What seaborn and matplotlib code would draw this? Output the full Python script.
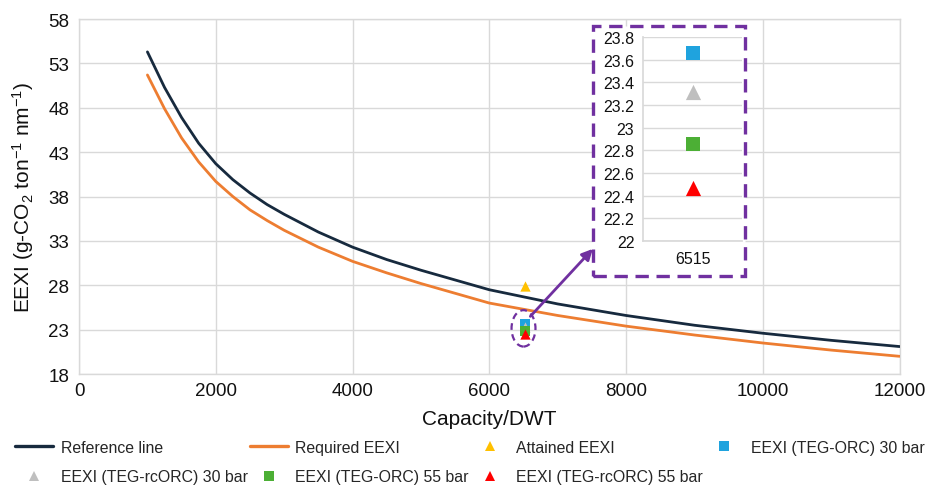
import matplotlib
matplotlib.use("Agg")
import matplotlib.pyplot as plt
import seaborn as sns
import pandas as pd
from matplotlib.patches import Ellipse, Rectangle
from matplotlib.lines import Line2D

# ---------------- data ----------------
dwt = [1000, 1250, 1500, 1750, 2000, 2250, 2500, 2750, 3000, 3500, 4000,
       4500, 5000, 6000, 7000, 8000, 9000, 10000, 11000, 12000]
reference_line = [54.3, 50.3, 46.9, 44.0, 41.7, 39.9, 38.4, 37.1, 36.0, 34.0, 32.3,
                  30.9, 29.7, 27.5, 25.9, 24.6, 23.5, 22.6, 21.8, 21.1]
required_eexi = [51.7, 47.9, 44.6, 41.9, 39.7, 38.0, 36.5, 35.3, 34.2, 32.3, 30.7,
                 29.4, 28.2, 26.0, 24.6, 23.4, 22.4, 21.5, 20.7, 20.0]

ship_dwt = 6515
point_labels = ["Attained EEXI", "EEXI (TEG-ORC) 30 bar", "EEXI (TEG-rcORC) 30 bar",
                "EEXI (TEG-ORC) 55 bar", "EEXI (TEG-rcORC) 55 bar"]
point_values = [27.9, 23.66, 23.32, 22.86, 22.47]
point_markers = ["^", "s", "^", "s", "^"]
point_colors = ["#FFC000", "#1FA3DE", "#BFBFBF", "#4CAF35", "#FF0000"]

x_ticks = [0, 2000, 4000, 6000, 8000, 10000, 12000]
y_ticks = [18, 23, 28, 33, 38, 43, 48, 53, 58]
inset_ticks = [22, 22.2, 22.4, 22.6, 22.8, 23, 23.2, 23.4, 23.6, 23.8]
inset_tick_labels = ["22", "22.2", "22.4", "22.6", "22.8", "23", "23.2", "23.4", "23.6", "23.8"]

NAVY = "#172A3E"
ORANGE = "#ED7D31"
PURPLE = "#7030A0"
GRID = "#D9D9D9"

# ---------------- style ----------------
sns.set_theme(style="white")
plt.rcParams["font.family"] = ["Liberation Sans", "DejaVu Sans"]
plt.rcParams["mathtext.fontset"] = "custom"
plt.rcParams["mathtext.rm"] = "Liberation Sans"
plt.rcParams["mathtext.it"] = "Liberation Sans:italic"
plt.rcParams["mathtext.bf"] = "Liberation Sans:bold"

fig = plt.figure(figsize=(9.41, 4.89), dpi=100)
ax = fig.add_axes([0.084, 0.233, 0.872, 0.726])

lines_df = pd.DataFrame({"dwt": dwt, "ref": reference_line, "req": required_eexi})
sns.lineplot(data=lines_df, x="dwt", y="ref", ax=ax, color=NAVY, lw=2.0, zorder=3)
sns.lineplot(data=lines_df, x="dwt", y="req", ax=ax, color=ORANGE, lw=2.0, zorder=3)

for lab, val, mk, col in zip(point_labels, point_values, point_markers, point_colors):
    sns.scatterplot(x=[ship_dwt], y=[val], ax=ax, marker=mk, color=col, s=55,
                    linewidth=0, zorder=4)

ax.set_xlim(0, 12000)
ax.set_ylim(18, 58)
ax.set_xticks(x_ticks)
ax.set_yticks(y_ticks)
ax.grid(True, color=GRID, lw=1.0)
ax.set_axisbelow(True)
for sp in ax.spines.values():
    sp.set_color(GRID)
    sp.set_linewidth(1.0)
ax.tick_params(axis="both", length=0, labelsize=13.5, colors="#111111")
ax.tick_params(axis="y", pad=7)
ax.tick_params(axis="x", pad=6)
ax.set_xlabel("Capacity/DWT", fontsize=15, labelpad=7, color="#111111")
ax.set_ylabel(r"EEXI (g-CO$_\mathregular{2}$ ton$^\mathregular{-1}$ nm$^\mathregular{-1}$)",
              fontsize=15, labelpad=9, color="#111111")

# dashed ellipse around the markers
ax.add_patch(Ellipse((6500, 23.15), 350, 4.1, fill=False, edgecolor=PURPLE,
                     lw=1.6, ls=(0, (3, 2)), zorder=5))

# dashed box behind the inset
box = Rectangle((0.630, 0.4335), 0.1615, 0.511, transform=fig.transFigure,
                facecolor="white", edgecolor=PURPLE, lw=2.4, ls=(0, (4, 2.3)),
                clip_on=False, zorder=6)
ax.add_patch(box)

# arrow from ellipse to box
ax.annotate("", xy=(0.630, 0.489), xycoords="figure fraction",
            xytext=(6600, 24.5), textcoords="data",
            arrowprops=dict(arrowstyle="-|>", color=PURPLE, lw=2.0,
                            mutation_scale=16, shrinkA=0, shrinkB=0),
            annotation_clip=False, zorder=7)

# ---------------- inset ----------------
axin = fig.add_axes([0.683, 0.505, 0.106, 0.417])
axin.set_zorder(10)
for i in range(4):
    sns.scatterplot(x=[str(ship_dwt)], y=[point_values[i + 1]], ax=axin,
                    marker=point_markers[i + 1], color=point_colors[i + 1],
                    s=95 if point_markers[i + 1] == "s" else 120, linewidth=0, zorder=4)
axin.set_xlim(-0.5, 0.5)
axin.set_ylim(22, 23.8)
axin.set_yticks(inset_ticks)
axin.set_yticklabels(inset_tick_labels)
axin.grid(True, axis="y", color=GRID, lw=1.0)
axin.set_axisbelow(True)
axin.patch.set_alpha(0.0)
for k, sp in axin.spines.items():
    sp.set_color(GRID)
    sp.set_visible(k in ("left", "bottom"))
axin.tick_params(axis="both", length=0, labelsize=11.5, colors="#111111")
axin.tick_params(axis="y", pad=6)
axin.tick_params(axis="x", pad=7)
axin.set_xlabel("")
axin.set_ylabel("")

# ---------------- legend ----------------
def mk(marker, color):
    return Line2D([], [], ls="none", marker=marker, color=color, markersize=7,
                  markeredgewidth=0)

h_ref = Line2D([], [], color=NAVY, lw=2.4)
h_req = Line2D([], [], color=ORANGE, lw=2.4)
h = {lab: mk(m, c) for lab, m, c in zip(point_labels, point_markers, point_colors)}
handles = [h_ref, h["EEXI (TEG-rcORC) 30 bar"], h_req, h["EEXI (TEG-ORC) 55 bar"],
           h["Attained EEXI"], h["EEXI (TEG-rcORC) 55 bar"], h["EEXI (TEG-ORC) 30 bar"]]
labels = ["Reference line", "EEXI (TEG-rcORC) 30 bar", "Required EEXI",
          "EEXI (TEG-ORC) 55 bar", "Attained EEXI", "EEXI (TEG-rcORC) 55 bar",
          "EEXI (TEG-ORC) 30 bar"]
fig.legend(handles, labels, ncol=4, loc="center left", bbox_to_anchor=(0.016, 0.053),
           frameon=False, fontsize=11.4, handlelength=2.4, handletextpad=0.5,
           columnspacing=0.1, labelspacing=0.9, borderpad=0, borderaxespad=0)

fig.savefig("out.png", dpi=100)
